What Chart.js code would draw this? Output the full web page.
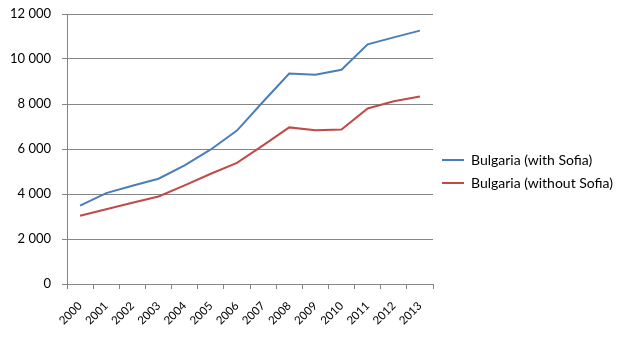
<!DOCTYPE html>
<html>
<head>
<meta charset="utf-8">
<script src="https://cdn.jsdelivr.net/npm/chart.js@4/dist/chart.umd.min.js"></script>
<style>
  html, body { margin: 0; padding: 0; background: #fff; }
  #wrap { width: 629px; height: 338px; }
</style>
</head>
<body>
<div id="wrap"><canvas id="myChart"></canvas></div>
<script>
const years = ["2000", "2001", "2002", "2003", "2004", "2005", "2006",
  "2007", "2008", "2009", "2010", "2011", "2012", "2013"];
const withSofia = [3480, 4040, 4370, 4680, 5270, 5980, 6820,
  8100, 9350, 9300, 9520, 10650, 10960, 11260];
const withoutSofia = [3030, 3320, 3610, 3890, 4380, 4900, 5380,
  6160, 6960, 6830, 6870, 7800, 8120, 8330];
const yTicks = [0, 2000, 4000, 6000, 8000, 10000, 12000];

const gridGrey = "#868686";
const fontFamily = "Lato, 'Open Sans', sans-serif";

// chart.js has no width option for a side legend, so fix it after fit
const legendWidth = {
  id: "legendWidth",
  afterInit(chart) {
    const fitLegend = chart.legend.fit;
    chart.legend.fit = function () {
      fitLegend.call(this);
      this.width = 196;
    };
  },
};

const ctx = document.getElementById("myChart").getContext("2d");

const config = {
  type: "line",
  data: {
    labels: years,
    datasets: [
      {
        label: "Bulgaria (with Sofia)",
        data: withSofia,
        borderColor: "#4A7EBB",
        backgroundColor: "#4A7EBB",
        borderWidth: 2,
        pointRadius: 0,
        tension: 0,
      },
      {
        label: "Bulgaria (without Sofia)",
        data: withoutSofia,
        borderColor: "#BE4B48",
        backgroundColor: "#BE4B48",
        borderWidth: 2,
        pointRadius: 0,
        tension: 0,
      },
    ],
  },
  options: {
    responsive: true,
    maintainAspectRatio: false,
    animation: false,
    layout: {
      padding: { left: 0, top: 14, right: 0, bottom: 9 },
    },
    plugins: {
      tooltip: { enabled: false },
      legend: {
        position: "right",
        labels: {
          boxWidth: 22,
          boxHeight: 2,
          padding: 9,
          color: "#000",
          font: { family: fontFamily, size: 14 },
          generateLabels: (chart) =>
            Chart.defaults.plugins.legend.labels
              .generateLabels(chart)
              .map((item) => ({ ...item, lineWidth: 0 })),
        },
      },
    },
    scales: {
      x: {
        offset: true,
        afterFit: (scale) => {
          scale.height = 45;
        },
        grid: {
          offset: true,
          drawOnChartArea: false,
          drawTicks: true,
          tickLength: 5,
          color: gridGrey,
        },
        border: { color: gridGrey, width: 1 },
        ticks: {
          maxRotation: 45,
          minRotation: 45,
          autoSkip: false,
          padding: 10,
          color: "#000",
          font: { family: fontFamily, size: 11.5 },
        },
      },
      y: {
        min: 0,
        max: 12000,
        afterBuildTicks: (axis) => {
          axis.ticks = yTicks.map((v) => ({ value: v }));
        },
        afterFit: (scale) => {
          scale.width = 67;
          scale.paddingTop = 0;
        },
        grid: {
          color: gridGrey,
          tickLength: 5,
        },
        border: { color: gridGrey, width: 1 },
        ticks: {
          padding: 11,
          color: "#000",
          font: { family: fontFamily, size: 13 },
          callback: (v) => String(v).replace(/\B(?=(\d{3})+(?!\d))/g, " "),
        },
      },
    },
  },
  plugins: [legendWidth],
};

const chart = new Chart(ctx, config);
</script>
</body>
</html>
